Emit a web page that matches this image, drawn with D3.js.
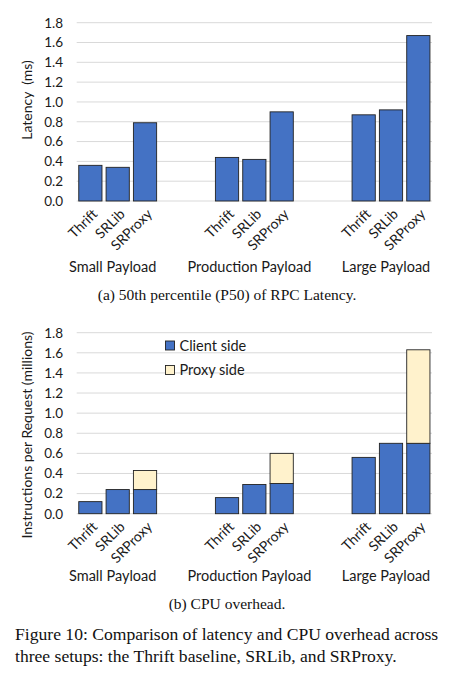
<!DOCTYPE html>
<html>
<head>
<meta charset="utf-8">
<script src="https://cdn.jsdelivr.net/npm/d3@7"></script>
<style>
  body { margin: 0; background: #fff; }
  svg { display: block; }
</style>
</head>
<body>
<div class="chart"></div>
<script>
var groups = ["Small Payload", "Production Payload", "Large Payload"];
var setups = ["Thrift", "SRLib", "SRProxy"];
var yTicks = [0, 0.2, 0.4, 0.6, 0.8, 1.0, 1.2, 1.4, 1.6, 1.8];

// P50 latency (ms), one value per payload group
var latencyThrift = [0.36, 0.44, 0.87];
var latencySRLib = [0.34, 0.42, 0.92];
var latencySRProxy = [0.79, 0.90, 1.67];

// instructions per request (millions)
var clientThrift = [0.12, 0.16, 0.56];
var clientSRLib = [0.24, 0.29, 0.70];
var clientSRProxy = [0.24, 0.30, 0.70];
var proxySRProxy = [0.19, 0.30, 0.93];

var svgWidth = 454;
var svgHeight = 680;

var blue = "#4472c4";
var cream = "#fff2cc";
var labelFont = "Lato, 'Open Sans', sans-serif";
var serifFont = "'Liberation Serif', 'DejaVu Serif', serif";

var svg = d3.select(".chart")
  .append("svg")
  .attr("width", svgWidth)
  .attr("height", svgHeight);

// 13 slots: 3 bars, 2 empty, 3 bars, 2 empty, 3 bars
var slots = d3.range(13);
var x = d3.scaleBand()
  .domain(slots)
  .range([76.7, 432])
  .paddingInner(0.15)
  .paddingOuter(0.075);

function slotOf(g, s) { return g * 5 + s; }

function drawPanel(top, bottom, yLabel, labelCenter, groupOffset, stacks) {
  var y = d3.scaleLinear().domain([0, 1.8]).range([bottom, top]);
  var panel = svg.append("g");

  // grid
  panel.append("g")
    .selectAll("line")
    .data(yTicks)
    .enter()
    .append("line")
    .attr("x1", x.range()[0])
    .attr("x2", x.range()[1])
    .attr("y1", d => y(d))
    .attr("y2", d => y(d))
    .attr("stroke", "#d9d9d9")
    .attr("stroke-width", 1);

  // y axis labels
  var leftAxis = d3.axisLeft(y)
    .tickValues(yTicks)
    .tickFormat(d3.format(".1f"))
    .tickSize(0)
    .tickPadding(0);
  var yAxis = panel.append("g")
    .attr("transform", "translate(63,0)")
    .call(leftAxis);
  yAxis.select(".domain").remove();
  yAxis.selectAll("text")
    .attr("font-family", labelFont)
    .attr("font-size", "13.5px")
    .attr("fill", "#1a1a1a");

  panel.append("text")
    .attr("transform", `translate(32, ${labelCenter}) rotate(-90)`)
    .attr("text-anchor", "middle")
    .attr("font-family", labelFont)
    .attr("font-size", "14px")
    .attr("fill", "#1a1a1a")
    .style("white-space", "pre")
    .text(yLabel);

  // bars, stacked per series
  stacks.forEach(function(layer) {
    var rows = [];
    groups.forEach(function(g, gi) {
      setups.forEach(function(s, si) {
        var v = layer.values[si] ? layer.values[si][gi] : 0;
        if (!v) return;
        var base = 0;
        if (layer.base && layer.base[si]) base = layer.base[si][gi];
        rows.push({ slot: slotOf(gi, si), y0: base, y1: base + v });
      });
    });
    panel.append("g")
      .selectAll("rect")
      .data(rows)
      .enter()
      .append("rect")
      .attr("x", d => x(d.slot))
      .attr("width", x.bandwidth())
      .attr("y", d => y(d.y1))
      .attr("height", d => y(d.y0) - y(d.y1))
      .attr("fill", layer.color)
      .attr("stroke", "#222")
      .attr("stroke-width", 0.9);
  });

  // category labels
  groups.forEach(function(g, gi) {
    setups.forEach(function(s, si) {
      var cx = x(slotOf(gi, si)) + x.bandwidth() / 2;
      panel.append("text")
        .attr("transform", `translate(${cx + 8}, ${bottom + 14}) rotate(-45)`)
        .attr("text-anchor", "end")
        .attr("font-family", labelFont)
        .attr("font-size", "14px")
        .attr("fill", "#1a1a1a")
        .text(s);
    });
    var gx = x(slotOf(gi, 1)) + x.bandwidth() / 2;
    panel.append("text")
      .attr("x", gx - 5)
      .attr("y", bottom + groupOffset)
      .attr("text-anchor", "middle")
      .attr("font-family", labelFont)
      .attr("font-size", "14.5px")
      .attr("fill", "#1a1a1a")
      .text(g);
  });
  return y;
}

// (a) latency
drawPanel(22.7, 201, "Latency  (ms)", 100, 70.7, [
  { color: blue, values: [latencyThrift, latencySRLib, latencySRProxy] }
]);

// (b) cpu
drawPanel(332.7, 513.7, "Instructions per Request (millions)", 435, 67.2, [
  { color: blue, values: [clientThrift, clientSRLib, clientSRProxy] },
  { color: cream, values: [null, null, proxySRProxy], base: [null, null, clientSRProxy] }
]);

// legend
var legendItems = [
  { name: "Client side", color: blue },
  { name: "Proxy side", color: cream }
];
var legend = svg.append("g").attr("transform", "translate(165.5, 341)");
legendItems.forEach(function(item, i) {
  var row = legend.append("g").attr("transform", `translate(0, ${i * 24.5})`);
  row.append("rect")
    .attr("width", 9)
    .attr("height", 9)
    .attr("fill", item.color)
    .attr("stroke", "#222")
    .attr("stroke-width", 0.9);
  row.append("text")
    .attr("x", 14)
    .attr("y", 9.5)
    .attr("font-family", labelFont)
    .attr("font-size", "14.5px")
    .attr("fill", "#1a1a1a")
    .text(item.name);
});

// captions
svg.append("text")
  .attr("x", 227)
  .attr("y", 300)
  .attr("text-anchor", "middle")
  .attr("font-family", serifFont)
  .attr("font-size", "15.5px")
  .attr("fill", "#111")
  .text("(a) 50th percentile (P50) of RPC Latency.");

svg.append("text")
  .attr("x", 227)
  .attr("y", 609)
  .attr("text-anchor", "middle")
  .attr("font-family", serifFont)
  .attr("font-size", "15.5px")
  .attr("fill", "#111")
  .text("(b) CPU overhead.");

var captionLines = [
  "Figure 10: Comparison of latency and CPU overhead across",
  "three setups: the Thrift baseline, SRLib, and SRProxy."
];
svg.append("g")
  .selectAll("text")
  .data(captionLines)
  .enter()
  .append("text")
  .attr("x", 15)
  .attr("y", (d, i) => 640 + i * 21.7)
  .attr("font-family", serifFont)
  .attr("font-size", "17.6px")
  .attr("fill", "#111")
  .text(d => d);
</script>
</body>
</html>
